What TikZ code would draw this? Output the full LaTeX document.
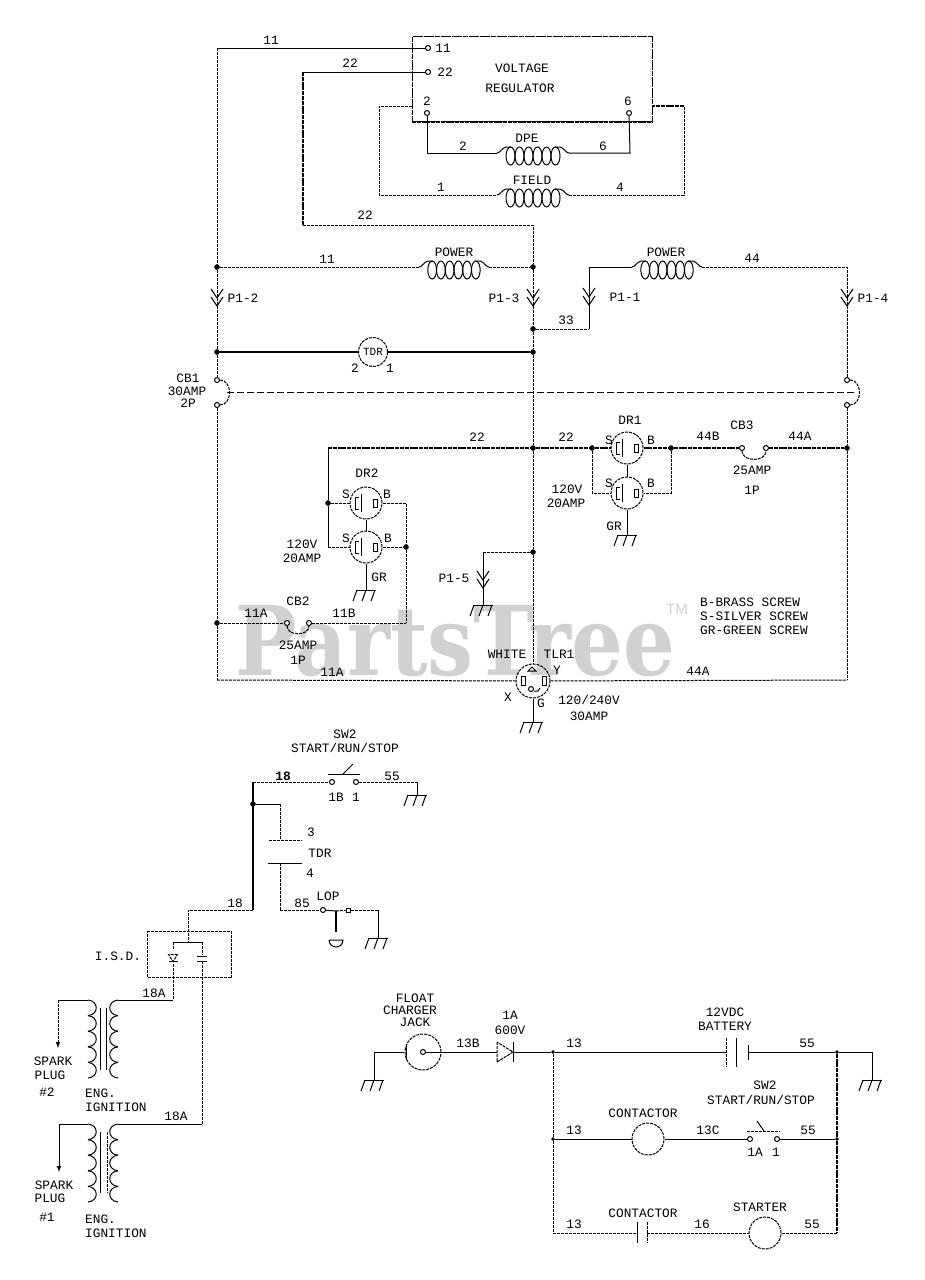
\documentclass[tikz,border=0pt]{standalone}
\usepackage{fontspec}
\setmainfont{Liberation Mono}
\newfontfamily\markfont{DejaVu Serif}
\newfontfamily\tmfont{Liberation Sans}
\tikzset{
    pics/gnd/.style={code={
        \draw[wire] (-10,0)--(10,0);
        \foreach \gx in {-9,0,9} {\draw[wire] (\gx,0)--(\gx-4,11);}
    }},
    pics/chev/.style={code={
        \draw[wire] (-6,-9)--(0,0)--(6,-9);
        \draw[wire] (-6,-1)--(0,8)--(6,-1);
    }},
    pics/blades/.style={code={
        \draw[wire] (-7,-6)--(-11,-6)--(-11,6)--(-7,6);
        \draw[wire] (-5,-9)--(-5,9);
        \draw[wire] (7,-4) rectangle (11,4);
    }},
    pics/diode/.style={code={
        \draw[dwire] (-8,-10)--(-8,10)--(8,0)--cycle;
        \draw[wire] (8,-10)--(8,10);
    }},
    pics/coilbody/.style={code={
        \draw[wire] (-36,0) .. controls (-33,0) and (-31,-5) .. (-27,-6)--(-22,-6);
        \draw[wire] (22,-6)--(27,-6) .. controls (31,-5) and (33,0) .. (36,0);
        \foreach \cx in {-22.5,-13.5,...,22.5} {\draw[wire] (\cx,3) ellipse (4.5 and 9);}
    }},
    pics/winding/.style={code={
        \foreach \wy in {0,15.6,31.2,46.8,62.4} {
            \draw[wire] (0,\wy) .. controls (11,\wy+1) and (11,\wy+14.6) .. (0,\wy+15.6);
        }
    }}
}
\begin{document}
\begin{tikzpicture}[
    x=1pt, y=-1pt,
    wire/.style={line width=1pt},
    dwire/.style={line width=1pt, dash pattern=on 3pt off 1pt},
    fat/.style={line width=2.2pt},
    dfat/.style={line width=2.2pt, dash pattern=on 4pt off 0.8pt},
    lbl/.style={inner sep=0pt, font=\fontsize{12.8}{14}\selectfont},
    jdot/.style={circle, fill=black, draw=black, minimum size=5pt, inner sep=0pt},
    term/.style={circle, fill=white, draw=black, line width=1pt, minimum size=5pt, inner sep=0pt},
    ring/.style={circle, draw=black, dwire, minimum size=32pt, inner sep=0pt, font=\fontsize{11}{12}\selectfont}
]
\useasboundingbox (0,0) rectangle (925,1280);

% ----- watermark -----
\node[anchor=base west, inner sep=0pt, text=black!18, font=\markfont\bfseries\fontsize{81.5}{82}\selectfont] (mark) at (235,675) {\scalebox{1}[1.18]{PartsTree}};
\node[inner sep=0pt, text=black!18, font=\tmfont\fontsize{15}{15}\selectfont] (tm) at (677,609) {TM};

% ----- voltage regulator -----
\node[draw=black, line width=1.2pt, dash pattern=on 5pt off 0.6pt, minimum width=240pt, minimum height=85pt, inner sep=0pt, anchor=north west] (vr) at (412,36) {};
\draw[dfat] (vr.south west)--(vr.south east);
\node[lbl] (lvolt) at (522,68) {VOLTAGE};
\node[lbl] (lreg) at (520,88) {REGULATOR};
\node[term] (t11) at (428,48) {};
\node[term] (t22) at (428,72) {};
\node[term] (t2) at (427,113) {};
\node[term] (t6) at (629,113) {};
\node[lbl] (lt11) at (443,48) {11};
\node[lbl] (lt22) at (445,72) {22};
\node[lbl] (lt2) at (427,101) {2};
\node[lbl] (lt6) at (628,101) {6};
\node[lbl] (l11a) at (271,40) {11};
\node[lbl] (l22a) at (350,63) {22};
\node[lbl] (l22b) at (365,215) {22};

% ----- junctions -----
\node[jdot] (j1) at (217,267) {};
\node[jdot] (j2) at (533,267) {};
\node[jdot] (j3) at (533,329) {};
\node[jdot] (j4) at (217,352) {};
\node[jdot] (j5) at (533,352) {};
\node[jdot] (j6) at (533,448) {};
\node[jdot] (j7) at (592,448) {};
\node[jdot] (j8) at (671,448) {};
\node[jdot] (j9) at (847,448) {};
\node[jdot] (j10) at (328,503) {};
\node[jdot] (j11) at (406,547) {};
\node[jdot] (j12) at (533,552) {};
\node[jdot] (j13) at (217,623) {};

% ----- corners -----
\coordinate (c11) at (217,48);
\coordinate (c22a) at (303,72);
\coordinate (c22b) at (303,225);
\coordinate (c22c) at (533,225);
\coordinate (cdl) at (427,153);
\coordinate (cdr) at (630,153);
\coordinate (cfa) at (412,106);
\coordinate (cfb) at (379,106);
\coordinate (cfc) at (379,195);
\coordinate (cfd) at (684,195);
\coordinate (cfe) at (684,106);
\coordinate (cff) at (652,106);
\coordinate (dpeL) at (497,153);
\coordinate (dpeR) at (569,153);
\coordinate (fldL) at (497,195);
\coordinate (fldR) at (569,195);
\coordinate (pwaL) at (419,267);
\coordinate (pwaR) at (489,267);
\coordinate (pwbL) at (632,267);
\coordinate (pwbR) at (702,267);
\coordinate (c33a) at (589,329);
\coordinate (c33b) at (589,267);
\coordinate (c44a) at (847,267);
\coordinate (bl) at (217,680);
\coordinate (br) at (847,680);
\coordinate (c22d) at (328,448);

% ----- coils -----
\pic at (533,153) {coilbody};
\pic at (533,195) {coilbody};
\pic[xscale=0.97] at (454,267) {coilbody};
\pic[xscale=0.97] at (667,267) {coilbody};
\node[lbl] (ldpe) at (527,138) {DPE};
\node[lbl] (lfld) at (532,180) {FIELD};
\node[lbl] (lpwa) at (454,252) {POWER};
\node[lbl] (lpwb) at (666,252) {POWER};
\node[lbl] (lc2) at (463,146) {2};
\node[lbl] (lc6) at (603,146) {6};
\node[lbl] (lc1) at (441,187) {1};
\node[lbl] (lc4) at (620,187) {4};
\node[lbl] (l11b) at (327,259) {11};
\node[lbl] (l44a) at (752,258) {44};
\node[lbl] (l33) at (566,320) {33};

\draw[wire] (t11)--(c11);
\draw[wire] (t22)--(c22a);
\draw[dfat] (c22a)--(c22b);
\draw[dwire] (c22b)--(c22c)--(j2);
\draw[wire] (t2)--(cdl)--(dpeL);
\draw[wire] (dpeR)--(cdr)--(t6);
\draw[dwire] (cfa)--(cfb)--(cfc)--(fldL);
\draw[dwire] (fldR)--(cfd)--(cfe);
\draw[dfat] (cfe)--(cff);
\draw[dwire] (j1)--(pwaL);
\draw[dwire] (pwaR)--(j2);
\draw[dwire] (j3)--(c33a);
\draw[wire] (c33a)--(c33b)--(pwbL);
\draw[dwire] (pwbR)--(c44a)--(847,380);

% ----- plugs -----
\pic at (217,298) {chev};
\pic at (533,298) {chev};
\pic at (589,297) {chev};
\pic at (847,298) {chev};
\pic at (483,580) {chev};
\node[lbl] (lp2) at (243,298) {P1-2};
\node[lbl] (lp3) at (504,298) {P1-3};
\node[lbl] (lp1) at (625,297) {P1-1};
\node[lbl] (lp4) at (873,298) {P1-4};
\node[lbl] (lp5) at (454,578) {P1-5};

% ----- TDR coil -----
\node[ring, minimum size=29pt] (tdr) at (373,352) {TDR};
\node[lbl] (ltd2) at (355,368) {2};
\node[lbl] (ltd1) at (390,368) {1};
\draw[fat] (j4)--(tdr);
\draw[fat] (tdr)--(j5);

% ----- CB1 -----
\node[term] (cb1a) at (217,380) {};
\node[term] (cb1b) at (217,405) {};
\node[term] (cb1c) at (847,380) {};
\node[term] (cb1d) at (847,405) {};
\coordinate (cb1l) at (227,392);
\coordinate (cb1r) at (857,392);
\draw[dwire] (cb1a) to[out=0,in=0,looseness=1.3] (cb1b);
\draw[dwire] (cb1c) to[out=0,in=0,looseness=1.3] (cb1d);
\draw[line width=1pt, dash pattern=on 7pt off 3pt] (cb1l)--(cb1r);
\node[lbl] (lcb1a) at (188,378) {CB1};
\node[lbl] (lcb1b) at (187,391) {30AMP};
\node[lbl] (lcb1c) at (188,403) {2P};

\draw[dwire] (c11)--(j1);
\draw[dwire] (j1)--(j4);
\draw[dwire] (j4)--(cb1a);
\draw[dwire] (cb1b)--(j13);
\draw[dwire] (j13)--(bl);
\draw[dwire] (j2)--(j3);
\draw[dwire] (j3)--(j5);
\draw[dwire] (j5)--(j6);
\draw[dwire] (j6)--(j12);
\draw[dwire] (cb1d)--(j9);
\draw[dwire] (j9)--(br);

% ----- bus 22 -----
\node[term] (cb3a) at (742,448) {};
\node[term] (cb3b) at (766,448) {};
\node[ring] (dr1a) at (627,448) {};
\node[ring] (dr1b) at (627,493) {};
\pic at (627,448) {blades};
\pic at (627,493) {blades};
\coordinate (c1a) at (592,493);
\coordinate (c1b) at (671,493);
\coordinate (g1) at (627,535);
\draw[dfat] (c22d)--(j6);
\draw[dfat] (j6)--(j7);
\draw[dfat] (j7)--(dr1a);
\draw[dfat] (dr1a)--(j8);
\draw[dfat] (j8)--(cb3a);
\draw[dfat] (cb3b)--(j9);
\draw[dwire] (cb3a) to[out=-90,in=-90,looseness=1.2] (cb3b);
\draw[dwire] (j7)--(c1a)--(dr1b);
\draw[dwire] (j8)--(c1b)--(dr1b);
\draw[wire] (dr1a)--(dr1b);
\draw[wire] (dr1b)--(g1);
\pic at (g1) {gnd};
\node[lbl] (l22c) at (477,437) {22};
\node[lbl] (l22d) at (566,437) {22};
\node[lbl] (l44b) at (708,436) {44B};
\node[lbl] (lcb3) at (742,425) {CB3};
\node[lbl] (l44c) at (800,436) {44A};
\node[lbl] (lcb3a) at (752,470) {25AMP};
\node[lbl] (lcb3b) at (752,490) {1P};
\node[lbl] (ldr1) at (630,420) {DR1};
\node[lbl] (ls1) at (609,440) {S};
\node[lbl] (lb1) at (651,440) {B};
\node[lbl] (ls2) at (609,483) {S};
\node[lbl] (lb2) at (651,483) {B};
\node[lbl] (lgr1) at (614,526) {GR};
\node[lbl] (lv1) at (567,489) {120V};
\node[lbl] (la1) at (566,503) {20AMP};

% ----- DR2 -----
\node[ring] (dr2a) at (366,503) {};
\node[ring] (dr2b) at (366,547) {};
\pic at (366,503) {blades};
\pic at (366,547) {blades};
\coordinate (c2a) at (328,547);
\coordinate (c2b) at (406,503);
\coordinate (c2c) at (406,623);
\coordinate (g2) at (366,590);
\draw[wire] (c22d)--(j10);
\draw[dwire] (j10)--(dr2a);
\draw[wire] (j10)--(c2a);
\draw[dwire] (c2a)--(dr2b);
\draw[dwire] (dr2a)--(c2b)--(j11);
\draw[dwire] (dr2b)--(j11);
\draw[dwire] (j11)--(c2c);
\draw[wire] (dr2a)--(dr2b);
\draw[wire] (dr2b)--(g2);
\pic at (g2) {gnd};
\node[lbl] (ldr2) at (367,473) {DR2};
\node[lbl] (ls3) at (346,494) {S};
\node[lbl] (lb3) at (387,494) {B};
\node[lbl] (ls4) at (346,538) {S};
\node[lbl] (lb4) at (388,538) {B};
\node[lbl] (lgr2) at (379,577) {GR};
\node[lbl] (lv2) at (302,544) {120V};
\node[lbl] (la2) at (302,558) {20AMP};

% ----- CB2 -----
\node[term] (cb2a) at (287,623) {};
\node[term] (cb2b) at (309,623) {};
\draw[dwire] (j13)--(cb2a);
\draw[dwire] (cb2b)--(c2c);
\draw[dwire] (cb2a) to[out=-90,in=-90,looseness=1.2] (cb2b);
\node[lbl] (l11c) at (256,613) {11A};
\node[lbl] (l11d) at (344,613) {11B};
\node[lbl] (lcb2) at (298,601) {CB2};
\node[lbl] (lcb2a) at (298,645) {25AMP};
\node[lbl] (lcb2b) at (298,660) {1P};

% ----- P1-5 -----
\coordinate (c5a) at (483,552);
\coordinate (g5) at (483,605);
\draw[dwire] (j12)--(c5a);
\draw[wire] (c5a)--(g5);
\pic at (g5) {gnd};

% ----- TLR1 -----
\node[ring, minimum size=34pt] (tlr) at (533,681) {};
\coordinate (g6) at (533,722);
\draw[dwire] (j12)--(tlr);
\draw[dwire] (bl)--(tlr);
\draw[dwire] (tlr)--(br);
\draw[wire] (tlr)--(g6);
\pic at (g6) {gnd};
\draw[wire] (525,676) rectangle (521,685);
\draw[wire] (542,676) rectangle (546,685);
\draw[wire] (528,671)--(532,667)--(536,671)--cycle;
\draw[wire] (531,689) circle (2.5pt);
\draw[wire] (534,691)--(538,691)--(540,688);
\node[lbl] (ll1) at (332,672) {11A};
\node[lbl] (ll4) at (698,671) {44A};
\node[lbl] (lwht) at (507,654) {WHITE};
\node[lbl] (ltlr) at (559,654) {TLR1};
\node[lbl] (ly) at (557,670) {Y};
\node[lbl] (lx) at (508,697) {X};
\node[lbl] (lg) at (541,703) {G};
\node[lbl] (lva) at (589,700) {120/240V};
\node[lbl] (laa) at (589,716) {30AMP};
\node[lbl, anchor=west] (lk1) at (700,602) {B-BRASS SCREW};
\node[lbl, anchor=west] (lk2) at (700,616) {S-SILVER SCREW};
\node[lbl, anchor=west] (lk3) at (700,630) {GR-GREEN SCREW};

% ----- SW2 ignition side -----
\node[lbl] (lsw1) at (345,734) {SW2};
\node[lbl] (lsw2) at (345,748) {START/RUN/STOP};
\node[term] (s18) at (332,782) {};
\node[term] (s1) at (356,782) {};
\node[jdot] (j14) at (253,804) {};
\coordinate (c18a) at (253,782);
\coordinate (c18b) at (253,910);
\coordinate (c55) at (417,782);
\coordinate (g7) at (417,795);
\coordinate (c3a) at (280,804);
\coordinate (c3b) at (280,840);
\coordinate (c3c) at (280,863);
\coordinate (c3d) at (280,910);
\coordinate (bar1a) at (328,774);
\coordinate (bar1b) at (360,774);
\coordinate (arm1a) at (343,774);
\coordinate (arm1b) at (353,764);
\coordinate (cta) at (269,840);
\coordinate (ctb) at (302,840);
\coordinate (ctc) at (268,863);
\coordinate (ctd) at (302,863);
\draw[dwire] (c18a)--(s18);
\draw[dwire] (s1)--(c55);
\draw[wire] (c55)--(g7);
\pic at (g7) {gnd};
\draw[wire] (bar1a)--(bar1b);
\draw[wire] (arm1a)--(arm1b);
\draw[fat] (c18a)--(c18b);
\draw[wire] (j14)--(c3a);
\draw[dwire] (c3a)--(c3b);
\draw[dwire] (cta)--(ctb);
\draw[wire] (ctc)--(ctd);
\draw[dwire] (c3c)--(c3d);
\node[lbl, font=\fontsize{12.8}{14}\selectfont\bfseries] (l18a) at (283,776) {18};
\node[lbl] (l1b) at (336,797) {1B};
\node[lbl] (l1) at (356,797) {1};
\node[lbl] (l55a) at (392,776) {55};
\node[lbl] (l3) at (311,832) {3};
\node[lbl] (ltdr) at (320,853) {TDR};
\node[lbl] (l4) at (310,873) {4};
\node[lbl] (l85) at (302,903) {85};
\node[lbl] (llop) at (328,896) {LOP};

% ----- LOP -----
\node[term] (lopa) at (323,910) {};
\node[term, rectangle, minimum size=4pt] (lopb) at (348,910) {};
\coordinate (c4a) at (378,910);
\coordinate (g8) at (378,938);
\coordinate (stema) at (336,911);
\coordinate (stemb) at (336,932);
\draw[dwire] (c3d)--(lopa);
\draw[wire] (lopa)--(stema);
\draw[dwire] (stema)--(lopb);
\draw[dwire] (lopb)--(c4a);
\draw[wire] (c4a)--(g8);
\draw[fat] (stema)--(stemb);
\draw[wire] (329,940)--(343,940) arc (0:180:7);
\pic at (g8) {gnd};

% ----- I.S.D. -----
\node[draw=black, dwire, minimum width=84pt, minimum height=46pt, inner sep=0pt, anchor=north west] (isd) at (147,931) {};
\node[lbl] (lisd) at (118,956) {I.S.D.};
\coordinate (c5b) at (188,910);
\coordinate (c5c) at (188,942);
\coordinate (c5d) at (173,942);
\coordinate (c5e) at (202,942);
\coordinate (c5f) at (173,1000);
\coordinate (c5g) at (202,1124);
\coordinate (p1a) at (118,1000);
\coordinate (p2a) at (118,1124);
\coordinate (s1a) at (88,1000);
\coordinate (s2a) at (88,1124);
\coordinate (sp1a) at (58,1000);
\coordinate (sp1b) at (58,1048);
\coordinate (sp2a) at (59,1124);
\coordinate (sp2b) at (59,1172);
\draw[dwire] (c18b)--(c5b)--(c5c);
\draw[wire] (c5d)--(c5e);
\draw[dwire] (c5d)--(173,950);
\draw[dwire] (c5e)--(202,955);
\pic[scale=0.45, rotate=-90] at (173,958) {diode};
\draw[wire] (197,956)--(207,956);
\draw[wire] (197,961)--(207,961);
\draw[dwire] (173,964)--(c5f);
\draw[wire] (c5f)--(p1a);
\draw[dwire] (202,961)--(c5g);
\draw[wire] (c5g)--(p2a);
\draw[wire] (s1a)--(sp1a);
\draw[dwire, -latex] (sp1a)--(sp1b);
\draw[wire] (s2a)--(sp2a);
\draw[wire, -latex] (sp2a)--(sp2b);
\node[lbl] (l18b) at (235,903) {18};
\node[lbl] (l18c) at (154,993) {18A};
\node[lbl] (l18d) at (176,1116) {18A};

% ----- ignition coils -----
\pic at (s1a) {winding};
\pic[xscale=-1] at (p1a) {winding};
\pic at (s2a) {winding};
\pic[xscale=-1] at (p2a) {winding};
\coordinate (k1a) at (100,1008);
\coordinate (k1b) at (100,1070);
\coordinate (k2a) at (106,1008);
\coordinate (k2b) at (106,1070);
\coordinate (k3a) at (100,1132);
\coordinate (k3b) at (100,1193);
\coordinate (k4a) at (107,1132);
\coordinate (k4b) at (107,1193);
\draw[wire] (k1a)--(k1b);
\draw[wire] (k2a)--(k2b);
\draw[wire] (k3a)--(k3b);
\draw[dwire] (k4a)--(k4b);
\node[lbl] (lsp1) at (53,1061) {SPARK};
\node[lbl] (lpl1) at (50,1075) {PLUG};
\node[lbl] (ln2) at (47,1092) {\#2};
\node[lbl, anchor=west] (leng1) at (85,1093) {ENG.};
\node[lbl, anchor=west] (lign1) at (85,1107) {IGNITION};
\node[lbl] (lsp2) at (54,1185) {SPARK};
\node[lbl] (lpl2) at (50,1198) {PLUG};
\node[lbl] (ln1) at (47,1217) {\#1};
\node[lbl, anchor=west] (leng2) at (85,1219) {ENG.};
\node[lbl, anchor=west] (lign2) at (85,1233) {IGNITION};

% ----- charger and battery -----
\node[ring, minimum size=36pt] (jack) at (423,1052) {};
\node[term] (jt) at (423,1052) {};
\node[jdot, minimum size=3pt] (j15) at (553,1052) {};
\node[jdot, minimum size=3pt] (j16) at (837,1052) {};
\node[jdot, minimum size=3pt] (j17) at (553,1139) {};
\node[jdot, minimum size=3pt] (j18) at (837,1139) {};
\coordinate (cg1) at (374,1052);
\coordinate (g9) at (374,1080);
\coordinate (jb) at (404,1052);
\coordinate (da) at (497,1052);
\coordinate (db) at (513,1052);
\coordinate (ba) at (726,1052);
\coordinate (bb) at (748,1052);
\coordinate (cg2) at (872,1052);
\coordinate (g10) at (872,1080);
\coordinate (c6a) at (553,1233);
\coordinate (c6b) at (837,1233);
\draw[wire] (g9)--(cg1)--(jb);
\draw[wire] (jb)++(2,-8)--++(0,16);
\draw[wire] (jt)--(da);
\pic at (505,1052) {diode};
\draw[wire] (db)--(j15);
\draw[wire] (j15)--(ba);
\draw[dwire] (726,1038)--(726,1067);
\draw[wire] (736,1038)--(736,1067);
\draw[wire] (748,1045)--(748,1060);
\draw[wire] (bb)--(j16);
\draw[wire] (j16)--(cg2)--(g10);
\pic at (g9) {gnd};
\pic at (g10) {gnd};
\draw[dwire] (j15)--(j17);
\draw[dwire] (j17)--(c6a);
\draw[dfat] (j16)--(j18);
\draw[dfat] (j18)--(c6b);
\node[lbl] (lflt) at (415,998) {FLOAT};
\node[lbl] (lchg) at (410,1010) {CHARGER};
\node[lbl] (ljck) at (415,1022) {JACK};
\node[lbl] (l13b) at (468,1043) {13B};
\node[lbl] (l1a) at (510,1015) {1A};
\node[lbl] (l600) at (510,1030) {600V};
\node[lbl] (l13a) at (574,1043) {13};
\node[lbl] (l12v) at (725,1012) {12VDC};
\node[lbl] (lbat) at (725,1026) {BATTERY};
\node[lbl] (l55b) at (807,1043) {55};

% ----- contactor row -----
\node[ring] (con) at (648,1139) {};
\node[term] (sa) at (750,1139) {};
\node[term] (sb) at (777,1139) {};
\coordinate (bar2a) at (747,1131);
\coordinate (bar2b) at (780,1131);
\coordinate (arm2a) at (764,1131);
\coordinate (arm2b) at (757,1121);
\draw[wire] (j17)--(con);
\draw[wire] (con)--(sa);
\draw[wire] (sb)--(j18);
\draw[dwire] (bar2a)--(bar2b);
\draw[wire] (arm2a)--(arm2b);
\node[lbl] (l13c) at (574,1130) {13};
\node[lbl] (lcon1) at (643,1113) {CONTACTOR};
\node[lbl] (l13d) at (708,1130) {13C};
\node[lbl] (lsw3) at (765,1085) {SW2};
\node[lbl] (lsw4) at (761,1100) {START/RUN/STOP};
\node[lbl] (l1a2) at (755,1152) {1A};
\node[lbl] (l12) at (776,1152) {1};
\node[lbl] (l55c) at (808,1130) {55};

% ----- starter row -----
\node[ring] (str) at (765,1233) {};
\coordinate (pa) at (637,1233);
\coordinate (pb) at (647,1233);
\draw[dwire] (c6a)--(pa);
\draw[wire] (637,1222)--(637,1243);
\draw[dwire] (647,1222)--(647,1243);
\draw[dwire] (pb)--(str);
\draw[dwire] (str)--(c6b);
\node[lbl] (l13e) at (574,1224) {13};
\node[lbl] (lcon2) at (643,1213) {CONTACTOR};
\node[lbl] (l16) at (702,1224) {16};
\node[lbl] (lstr) at (760,1207) {STARTER};
\node[lbl] (l55d) at (812,1224) {55};

\end{tikzpicture}
\end{document}
